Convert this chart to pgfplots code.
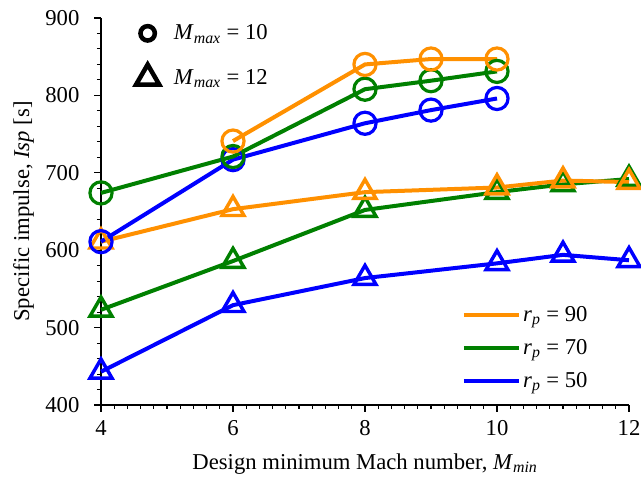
\documentclass[border=0pt]{standalone}
\usepackage{pgfplots}
\pgfplotsset{compat=1.18}
\usepackage{fontspec}
\setmainfont{Liberation Serif}
\definecolor{cOrange}{RGB}{255,144,0}
\definecolor{cGreen}{RGB}{0,128,0}
\definecolor{cBlue}{RGB}{0,0,255}
\newcommand{\fs}{\fontsize{17}{20}\selectfont}
\begin{document}
\begin{tikzpicture}
\pgfplotsset{
  base/.style={
    width=396pt, height=290.25pt, scale only axis,
    xmin=4, xmax=12, ymin=400, ymax=900,
    clip=false,
  },
}
\begin{axis}[
  base, name=main,
  axis x line*=bottom, axis y line*=left,
  axis line style={-, line width=1pt},
  xtick={4,6,8,10,12}, ytick={400,500,...,900},
  xticklabels={4,6,8,10,12},
  yticklabels={400,500,600,700,800,900},
  minor x tick num=9, minor y tick num=4,
  tick align=outside,
  major tick length=5pt, minor tick length=3pt,
  tick style={black, line width=0.8pt},
  tick label style={font=\fs},
  xticklabel style={anchor=center, yshift=-12pt},
  yticklabel style={anchor=east, inner sep=0pt, xshift=-11pt},
  every axis x label/.style={at={([yshift=-44pt]axis description cs:0.5,0)}, anchor=center, font=\fs},
  every axis y label/.style={at={([xshift=-58pt]axis description cs:0,0.5)}, anchor=center, rotate=90, font=\fs},
  xlabel={Design minimum Mach number, \textit{M}\textsubscript{\textit{min}}},
  ylabel={Specific impulse, \textit{Isp} [s]},
  legend style={draw=none, fill=none, font=\fs, at={(0.683,0.033)}, anchor=south west,
    row sep=8pt, legend cell align=left, inner sep=0pt},
  legend image code/.code={\draw[#1, line width=3pt] (0pt,0pt) -- (41pt,0pt);},
  every axis plot/.append style={line width=3pt},
]
\addlegendimage{cOrange}
\addlegendentry{\textit{r}\textsubscript{\textit{p}} = 90}
\addlegendimage{cGreen}
\addlegendentry{\textit{r}\textsubscript{\textit{p}} = 70}
\addlegendimage{cBlue}
\addlegendentry{\textit{r}\textsubscript{\textit{p}} = 50}

\pgfplotsset{tri/.style={mark=triangle, mark size=9.5pt, mark options={line width=2.6pt, fill=none}}}
\pgfplotsset{circ/.style={mark=o, mark size=8.3pt, mark options={line width=2.4pt, fill=none}}}

% M_max = 12 (triangles)
\addplot[cBlue, tri, forget plot] coordinates {(4,443) (6,529) (8,564) (10,583) (11,594) (12,587)};
\addplot[cGreen, tri, forget plot] coordinates {(4,523) (6,586) (8,652) (10,675) (11,685) (12,692)};
\addplot[cOrange, tri, forget plot] coordinates {(4,611) (6,653) (8,675) (10,681) (11,690) (12,688)};

% M_max = 10 (circles)
\addplot[cBlue, circ, forget plot] coordinates {(4,611) (6,717) (8,764) (9,781) (10,796)};
\addplot[cGreen, circ, forget plot] coordinates {(4,674) (6,721) (8,808) (9,819) (10,831)};
\addplot[cOrange, circ, forget plot] coordinates {(6,741) (8,840) (9,847) (10,847)};
\end{axis}

% marker legend
\begin{axis}[
  base, hide axis,
  legend style={draw=none, fill=none, font=\fs, at={(0.066,0.99)}, anchor=north west,
    row sep=15pt, legend cell align=left, inner sep=0pt,
    /tikz/every odd column/.append style={column sep=9pt}},
  legend image code/.code={\draw[mark repeat=2, mark phase=2, #1] plot coordinates {(0pt,0pt) (10pt,0pt) (20pt,0pt)};},
]
\addlegendimage{only marks, mark=o, mark size=5.4pt, line width=3.4pt, black}
\addlegendentry{\textit{M}\textsubscript{\textit{max}} = 10}
\addlegendimage{only marks, mark=triangle, mark size=10pt, line width=3.4pt, black}
\addlegendentry{\textit{M}\textsubscript{\textit{max}} = 12}
\end{axis}

% fix the page to the full frame around the axis
\pgfresetboundingbox
\path ([xshift=-75.75pt, yshift=-56.25pt]main.south west) rectangle ([xshift=9pt, yshift=13.5pt]main.north east);
\end{tikzpicture}
\end{document}
